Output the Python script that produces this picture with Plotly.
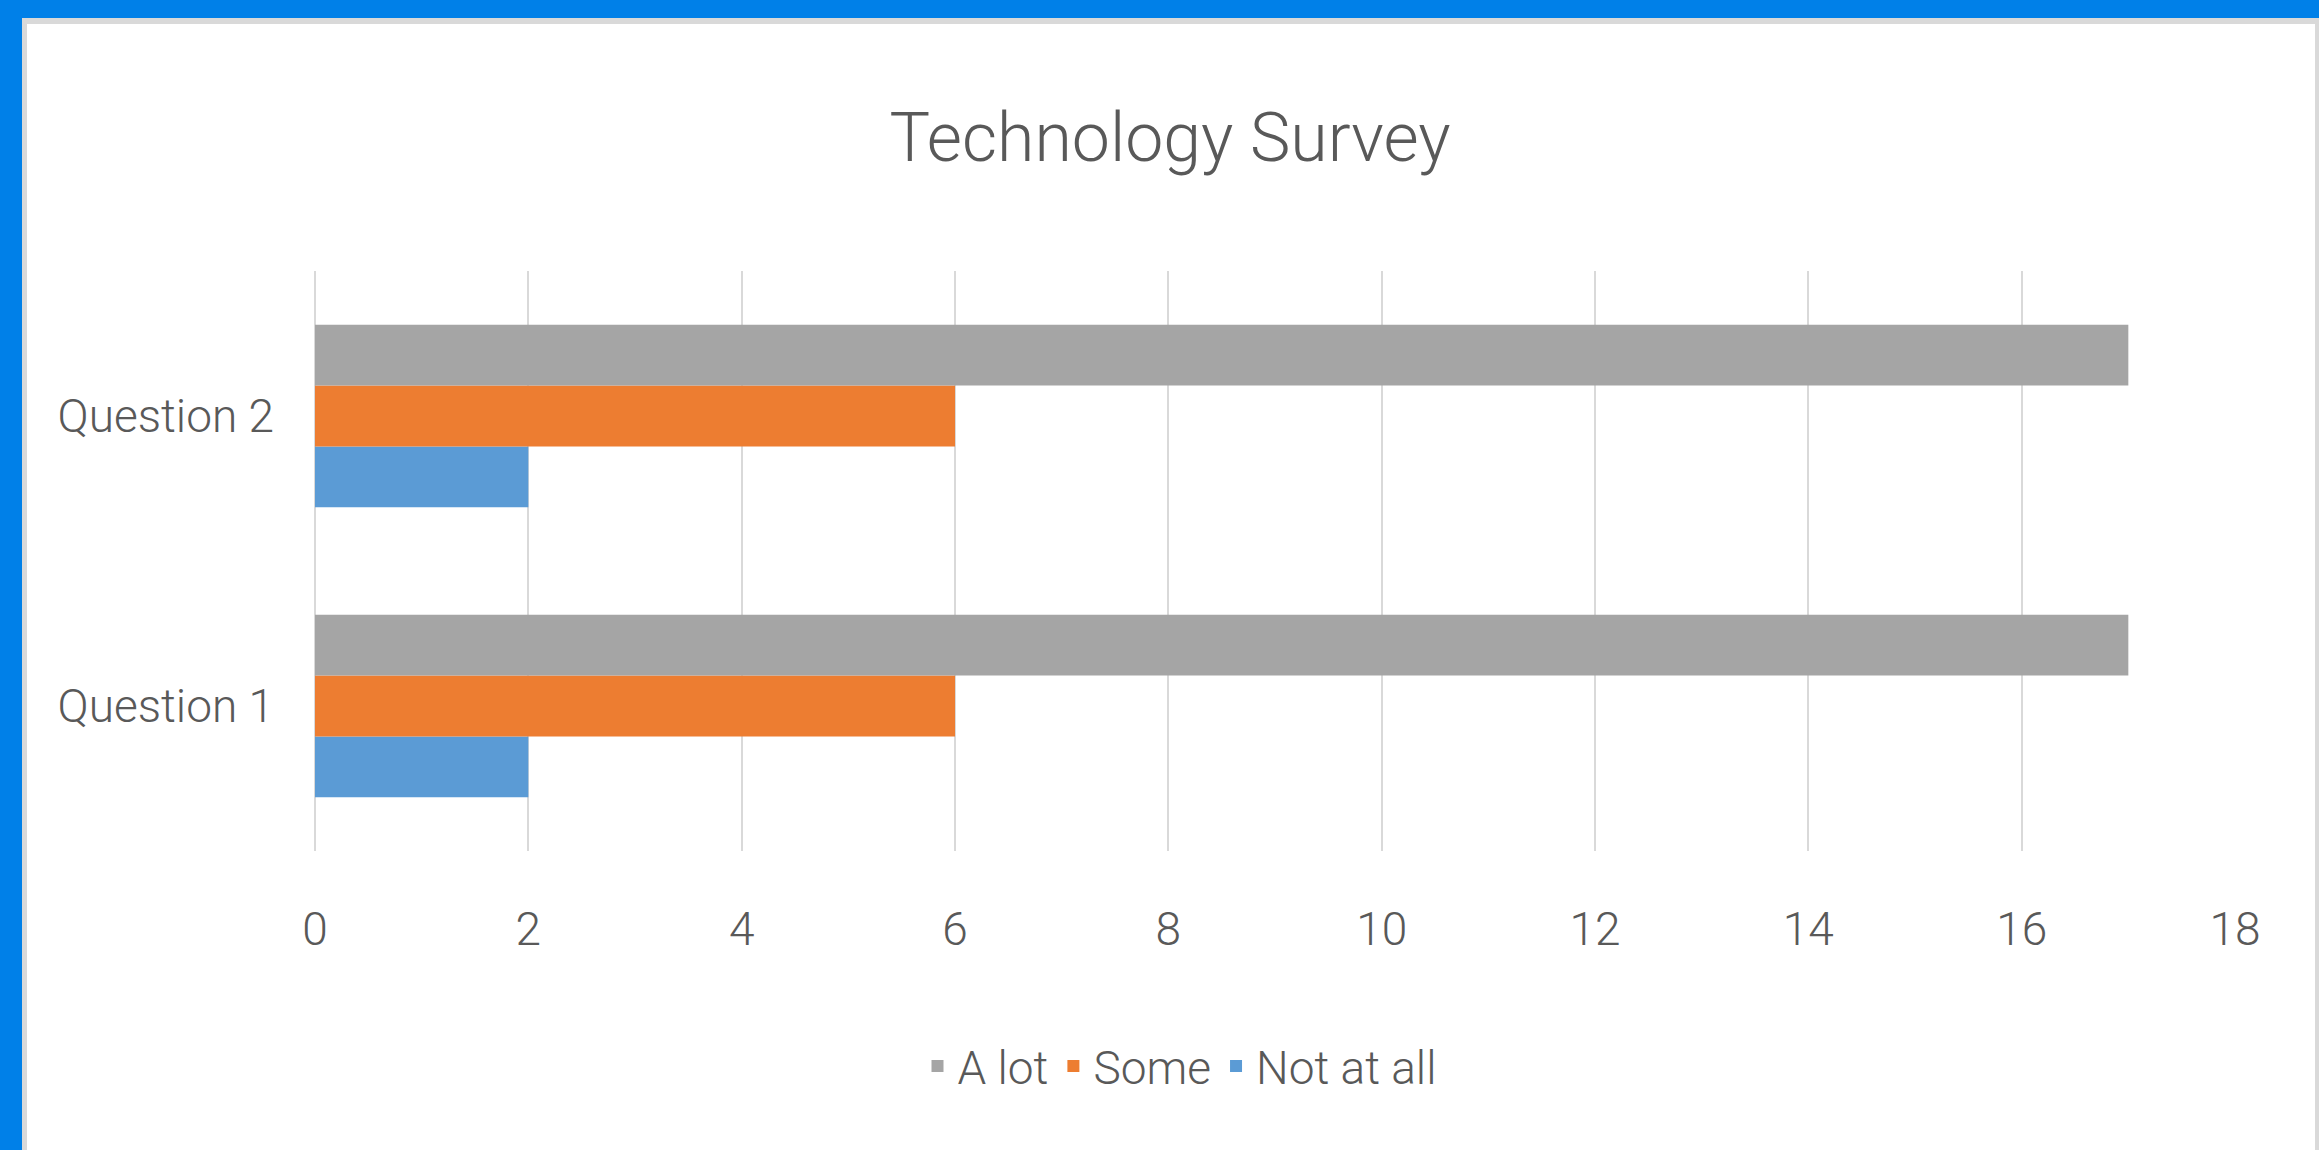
import plotly.graph_objects as go

# ---- data ----
categories = ["Question 1", "Question 2"]
series_names = ["Not at all", "Some", "A lot"]
not_at_all = [2, 2]
some = [6, 6]
a_lot = [17, 17]
series_values = [not_at_all, some, a_lot]
series_colors = ["#5B9BD5", "#ED7D31", "#A5A5A5"]
x_ticks = [0, 2, 4, 6, 8, 10, 12, 14, 16, 18]
title_text = "Technology Survey"

# ---- layout geometry (pixels) ----
W, H = 2319, 1150
ML, MR, MT, MB = 315, 84, 271, 299
PW, PH = W - ML - MR, H - MT - MB

def px_x(p):
    return (p - ML) / PW

def px_y(p):
    return (H - MB - p) / PH

FONT = "Roboto, 'Liberation Sans', sans-serif"
TXT = "#595959"

fig = go.Figure()
for name, vals, col in zip(series_names, series_values, series_colors):
    fig.add_trace(go.Bar(
        y=categories, x=vals, name=name, orientation="h",
        marker=dict(color=col, line=dict(width=0)),
    ))

fig.update_layout(
    width=W, height=H,
    margin=dict(l=ML, r=MR, t=MT, b=MB, pad=0),
    paper_bgcolor="#0080E8",
    plot_bgcolor="rgba(0,0,0,0)",
    barmode="group",
    bargap=0.37,
    bargroupgap=0,
    font=dict(family=FONT, color=TXT, size=46, weight=300),
    title=dict(
        text=title_text, x=1170 / W, xanchor="center",
        y=1 - 137 / H, yanchor="middle", yref="container",
        font=dict(size=68, color=TXT, family=FONT, weight=300),
    ),
    showlegend=True,
    legend=dict(
        orientation="h", traceorder="reversed",
        x=px_x(1180), xanchor="center", y=px_y(1066), yanchor="middle",
        font=dict(size=46, color=TXT, family=FONT, weight=300),
        bgcolor="rgba(0,0,0,0)", itemwidth=30,
    ),
    xaxis=dict(
        range=[0, 18], tickvals=x_ticks, showgrid=True, gridcolor="#D9D9D9",
        gridwidth=2, zeroline=True, zerolinecolor="#D9D9D9", zerolinewidth=2,
        showline=False, ticks="", ticklabelstandoff=47, fixedrange=True,
    ),
    yaxis=dict(
        showgrid=False, zeroline=False, showline=False, ticks="",
        ticklabelstandoff=40, fixedrange=True,
    ),
    shapes=[
        dict(type="rect", xref="paper", yref="paper", layer="below",
             x0=px_x(22), x1=px_x(W), y0=px_y(18), y1=px_y(H),
             fillcolor="#D9D9D9", line=dict(width=0)),
        dict(type="rect", xref="paper", yref="paper", layer="below",
             x0=px_x(27), x1=px_x(2315), y0=px_y(24), y1=px_y(H),
             fillcolor="#FFFFFF", line=dict(width=0)),
    ],
)

fig.write_html(
    "out.html",
    config={"displayModeBar": False},
    post_script="document.body.style.margin='0';document.body.style.overflow='hidden';",
)
